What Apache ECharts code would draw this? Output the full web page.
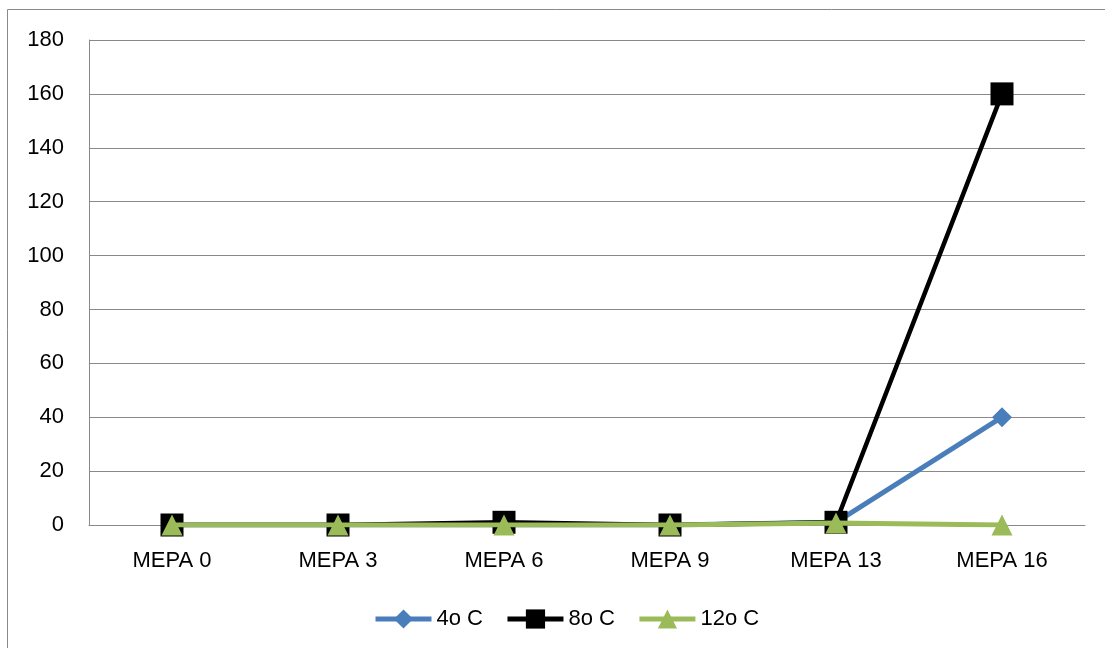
<!DOCTYPE html>
<html>
<head>
<meta charset="utf-8">
<script src="https://cdn.jsdelivr.net/npm/echarts@6/dist/echarts.min.js"></script>
<style>
  html, body { margin: 0; padding: 0; background: #fff; }
  #chart { width: 1105px; height: 648px; }
</style>
</head>
<body>
<div id="chart"></div>
<script>
// Categories along the x axis
const categories = ['MEPA 0', 'MEPA 3', 'MEPA 6', 'MEPA 9', 'MEPA 13', 'MEPA 16'];

// Series values per temperature
const seriesNames = ['4o C', '8o C', '12o C'];
const values4 = [0, 0, 0, 0, 1, 40];
const values8 = [0, 0, 1, 0, 1, 160];
const values12 = [0, 0, 0, 0, 0.7, 0];

// Value axis range
const yMin = 0;
const yMax = 180;
const yStep = 20;

const font = '"Liberation Sans", Arial, sans-serif';
const chart = echarts.init(document.getElementById('chart'));

chart.setOption({
  animation: false,
  backgroundColor: '#fff',
  graphic: [{
    type: 'rect',
    shape: { x: 7.5, y: 9.5, width: 1110, height: 660 },
    style: { fill: 'none', stroke: '#898989', lineWidth: 1 },
    silent: true
  }],
  grid: { left: 89, right: 20, top: 40, bottom: 123 },
  legend: {
    top: 603,
    left: 368,
    itemWidth: 56,
    itemHeight: 24,
    itemGap: 22,
    lineStyle: { width: 5 },
    textStyle: { fontFamily: font, fontSize: 22, color: '#000' },
    data: seriesNames
  },
  xAxis: {
    type: 'category',
    data: categories,
    boundaryGap: true,
    axisLine: { lineStyle: { color: '#898989', width: 1 } },
    axisTick: { show: false },
    axisLabel: { fontFamily: font, fontSize: 22, color: '#000', margin: 25 }
  },
  yAxis: {
    type: 'value',
    min: yMin,
    max: yMax,
    interval: yStep,
    axisLine: { show: true, lineStyle: { color: '#898989', width: 1 } },
    axisTick: { show: false },
    axisLabel: { fontFamily: font, fontSize: 22, color: '#000', margin: 25 },
    splitLine: { lineStyle: { color: '#898989', width: 1 } }
  },
  series: [
    {
      name: seriesNames[0],
      type: 'line',
      data: values4,
      symbol: 'diamond',
      symbolSize: 20,
      lineStyle: { color: '#4a7ebb', width: 5 },
      itemStyle: { color: '#4a7ebb' },
      z: 2
    },
    {
      name: seriesNames[1],
      type: 'line',
      data: values8,
      symbol: 'rect',
      symbolSize: 23,
      lineStyle: { color: '#000', width: 4.5 },
      itemStyle: { color: '#000', borderRadius: 3 },
      z: 3
    },
    {
      name: seriesNames[2],
      type: 'line',
      data: values12,
      symbol: 'triangle',
      symbolSize: 21,
      lineStyle: { color: '#9bbb59', width: 5 },
      itemStyle: { color: '#9bbb59' },
      z: 4
    }
  ]
});
</script>
</body>
</html>
